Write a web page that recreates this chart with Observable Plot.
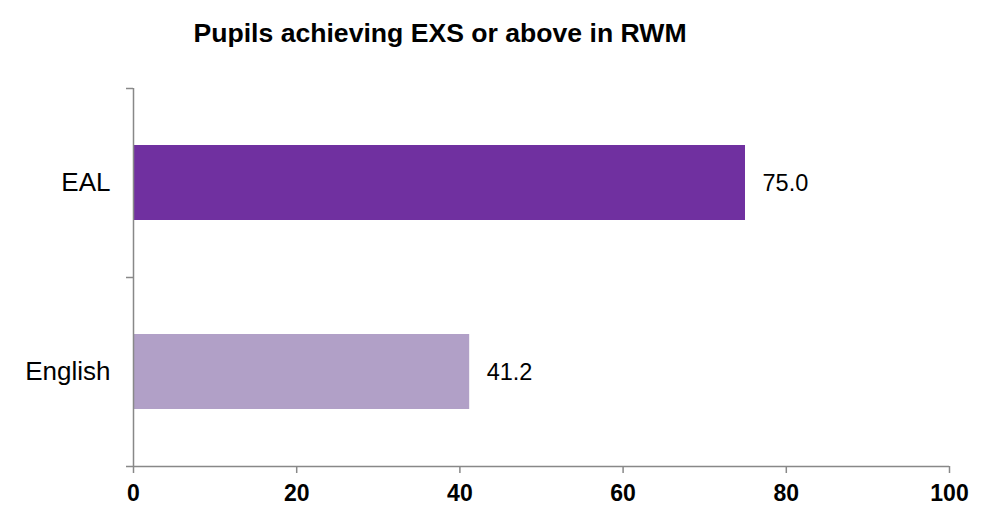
<!DOCTYPE html>
<html>
<head>
<meta charset="utf-8">
<script src="https://cdn.jsdelivr.net/npm/d3@7"></script>
<script src="https://cdn.jsdelivr.net/npm/@observablehq/plot@0.6"></script>
<style>
  html, body { margin: 0; padding: 0; background: #fff; }
  #title { position: relative; height: 60px; width: 986px; font: bold 26.6px "Liberation Sans", Arial, sans-serif; color: #000; }
  #title span { position: absolute; left: 440px; top: 20px; line-height: 26px; transform: translateX(-50%); white-space: nowrap; }
</style>
</head>
<body>
<div id="title"><span>Pupils achieving EXS or above in RWM</span></div>
<div id="chart"></div>
<script>
const categories = ["EAL", "English"];
const values = [75.0, 41.2];
const colors = ["#7030A0", "#B1A0C7"];
const xTicks = [0, 20, 40, 60, 80, 100];

const data = categories.map((c, i) => ({category: c, value: values[i], color: colors[i]}));
const axisColor = "#888888";
const tickLen = 7 / ((986 - 133 - 37) / 100);

const chart = Plot.plot({
  width: 986,
  height: 446,
  marginLeft: 133,
  marginRight: 37,
  marginTop: 28,
  marginBottom: 40,
  style: {fontFamily: "'Liberation Sans', Arial, sans-serif", background: "#fff", color: "#000"},
  x: {domain: [0, 100], label: null},
  y: {domain: categories, padding: 0, label: null},
  marks: [
    Plot.barX(data, {y: "category", x: "value", fill: "color", insetTop: 57, insetBottom: 57}),
    Plot.text(data, {y: "category", x: "value", text: d => d.value.toFixed(1), textAnchor: "start", dx: 17, fontSize: 23.5, fill: "#000"}),
    Plot.axisY({tickSize: 0, tickPadding: 23, fontSize: 26, fill: "#000", label: null}),
    Plot.axisX({ticks: xTicks, tickSize: 7, tickPadding: 11, fontSize: 23, fontWeight: "bold", fill: "#000", stroke: axisColor, strokeWidth: 1.5, tickFormat: d => String(d), label: null}),
    Plot.ruleX([0], {stroke: axisColor, strokeWidth: 1.5}),
    Plot.ruleY(categories, {y: d => d, x1: -tickLen, x2: 0, dy: -94.5, stroke: axisColor, strokeWidth: 1.5}),
    Plot.ruleY([categories[categories.length - 1]], {y: d => d, x1: -tickLen, x2: 100, dy: 94.5, stroke: axisColor, strokeWidth: 1.5})
  ]
});
document.getElementById("chart").appendChild(chart);
</script>
</body>
</html>
